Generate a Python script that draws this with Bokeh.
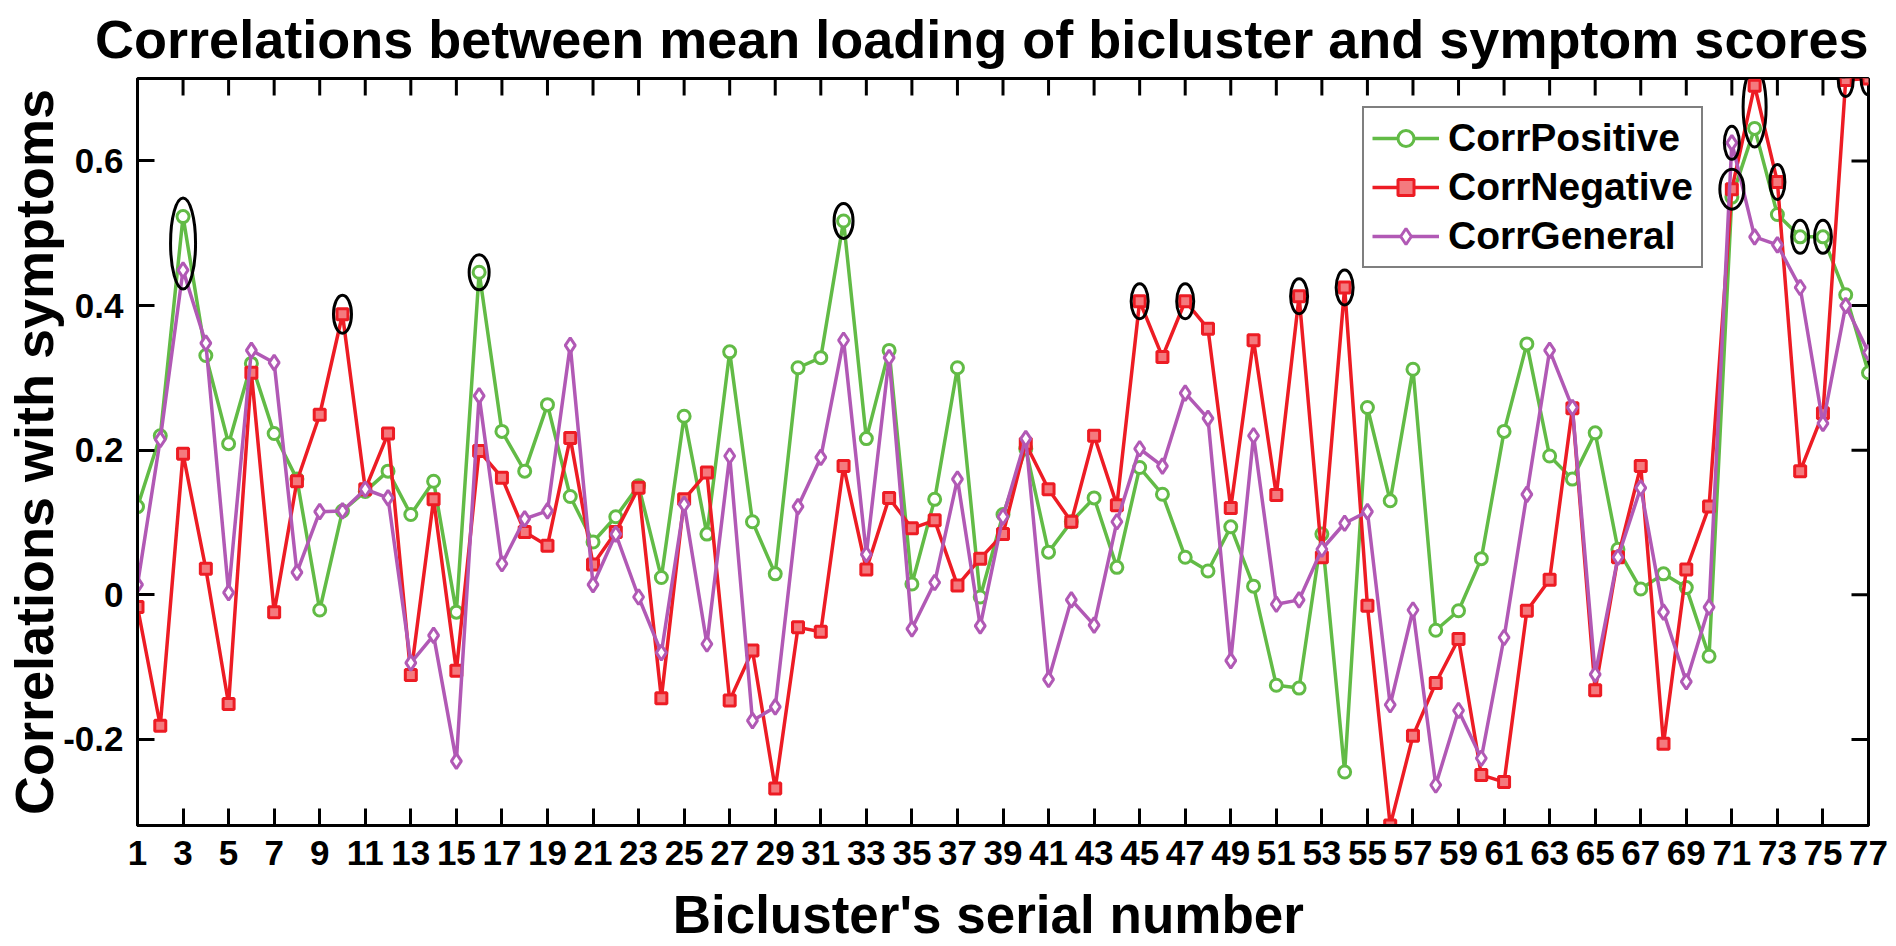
import math
from bokeh.plotting import figure
from bokeh.models import Range1d, FixedTicker, Legend, LegendItem, ColumnDataSource
from bokeh.embed import file_html
from bokeh.resources import INLINE

# ---------------- data ----------------
serial = list(range(1, 78))

corr_positive = [0.122, 0.22, 0.523, 0.331, 0.209, 0.32, 0.223, 0.16, -0.021, 0.116,
                 0.143, 0.171, 0.111, 0.157, -0.024, 0.446, 0.226, 0.171, 0.263, 0.136,
                 0.073, 0.108, 0.151, 0.024, 0.247, 0.084, 0.336, 0.101, 0.029, 0.314,
                 0.328, 0.517, 0.216, 0.338, 0.015, 0.132, 0.314, -0.003, 0.111, 0.202,
                 0.059, 0.101, 0.134, 0.038, 0.176, 0.139, 0.052, 0.033, 0.094, 0.012,
                 -0.125, -0.129, 0.084, -0.245, 0.259, 0.13, 0.312, -0.049, -0.022, 0.05,
                 0.226, 0.347, 0.192, 0.16, 0.224, 0.063, 0.008, 0.029, 0.01, -0.085,
                 0.55, 0.645, 0.526, 0.495, 0.495, 0.415, 0.307]

corr_negative = [-0.017, -0.181, 0.195, 0.036, -0.151, 0.307, -0.024, 0.157, 0.249, 0.388,
                 0.146, 0.223, -0.111, 0.132, -0.105, 0.199, 0.162, 0.087, 0.068, 0.217,
                 0.042, 0.087, 0.148, -0.143, 0.132, 0.169, -0.146, -0.077, -0.268, -0.045,
                 -0.051, 0.178, 0.035, 0.134, 0.092, 0.103, 0.013, 0.05, 0.084, 0.209,
                 0.146, 0.101, 0.22, 0.124, 0.406, 0.329, 0.406, 0.368, 0.12, 0.352,
                 0.138, 0.413, 0.052, 0.425, -0.015, -0.319, -0.195, -0.122, -0.061, -0.249,
                 -0.259, -0.022, 0.021, 0.258, -0.132, 0.052, 0.178, -0.206, 0.035, 0.122,
                 0.561, 0.704, 0.571, 0.171, 0.251, 0.712, 0.714]

corr_general = [0.014, 0.215, 0.449, 0.348, 0.003, 0.338, 0.321, 0.031, 0.115, 0.116,
                0.146, 0.134, -0.094, -0.056, -0.23, 0.275, 0.043, 0.105, 0.116, 0.345,
                0.014, 0.084, -0.003, -0.08, 0.125, -0.068, 0.192, -0.174, -0.155, 0.122,
                0.19, 0.352, 0.056, 0.328, -0.047, 0.017, 0.16, -0.043, 0.108, 0.216,
                -0.117, -0.007, -0.042, 0.101, 0.202, 0.178, 0.279, 0.244, -0.091, 0.22,
                -0.013, -0.007, 0.063, 0.099, 0.115, -0.152, -0.021, -0.263, -0.16, -0.226,
                -0.059, 0.139, 0.338, 0.259, -0.11, 0.052, 0.148, -0.024, -0.12, -0.017,
                0.625, 0.495, 0.484, 0.425, 0.237, 0.4, 0.335]

series_names = ["CorrPositive", "CorrNegative", "CorrGeneral"]

x_tick_values = list(range(1, 78, 2))
y_tick_values = [-0.2, 0, 0.2, 0.4, 0.6]
y_tick_labels = ["-0.2", "0", "0.2", "0.4", "0.6"]

title_text = "Correlations between mean loading of bicluster and symptom scores"
x_label_text = "Bicluster's  serial  number"
y_label_text = "Correlations with symptoms"

# circled (highlighted) points: serial number and the series that locate the ring
circled_serial = [3, 10, 16, 32, 45, 47, 52, 54, 71, 71, 72, 73, 74, 75, 76, 77]
circled_series = [["CorrPositive", "CorrGeneral"], ["CorrNegative"], ["CorrPositive"],
                  ["CorrPositive"], ["CorrNegative"], ["CorrNegative"], ["CorrNegative"],
                  ["CorrNegative"], ["CorrGeneral"], ["CorrNegative"],
                  ["CorrPositive", "CorrNegative"], ["CorrNegative"], ["CorrPositive"],
                  ["CorrPositive"], ["CorrNegative"], ["CorrNegative"]]

# ---------------- styles ----------------
FONT = "Liberation Sans"
colors = {"CorrPositive": "#62BB46", "CorrNegative": "#ED1C24", "CorrGeneral": "#B159B5"}
markers = {"CorrPositive": "circle", "CorrNegative": "square", "CorrGeneral": "diamond"}
marker_sizes = {"CorrPositive": 12, "CorrNegative": 11, "CorrGeneral": 15}
marker_fill = {"CorrPositive": "white", "CorrNegative": "#F47A7E", "CorrGeneral": "white"}
ring_w = [25, 18, 20, 19, 17, 17, 17, 17, 15, 24, 23, 15, 17, 17, 15, 15]
ring_h = [91, 38, 35, 35, 35, 35, 35, 35, 33, 40, 80, 35, 33, 33, 33, 33]

values = {"CorrPositive": corr_positive, "CorrNegative": corr_negative, "CorrGeneral": corr_general}

W, H = 1890, 946
LB, RB, TB, BB = 137, 22, 77, 120

all_vals = corr_positive + corr_negative + corr_general
ymin, ymax = min(all_vals), max(all_vals)
xmin, xmax = serial[0], serial[-1]

p = figure(width=W, height=H,
           x_range=Range1d(xmin, xmax), y_range=Range1d(ymin, ymax),
           output_backend="svg", toolbar_location=None,
           min_border_left=LB, min_border_right=RB, min_border_top=TB, min_border_bottom=BB)
p.grid.visible = False
p.background_fill_color = "white"
p.border_fill_color = "white"
p.outline_line_color = "black"
p.outline_line_width = 3

# title
p.title.text = title_text
p.title.align = "right"
p.title.vertical_align = "top"
p.title.offset = 0
p.title.standoff = 16
p.title.text_font = FONT
p.title.text_font_style = "bold"
p.title.text_font_size = "54px"
p.title.text_color = "black"

for ax in (p.xaxis[0], p.yaxis[0]):
    ax.axis_line_width = 3
    ax.axis_line_color = "black"
    ax.major_tick_in = 17
    ax.major_tick_out = 0
    ax.major_tick_line_width = 3
    ax.minor_tick_line_color = None
    ax.major_label_text_font = FONT
    ax.major_label_text_font_style = "bold"
    ax.major_label_text_color = "black"
    ax.major_label_text_font_size = "35px"
    ax.axis_label_text_font = FONT
    ax.axis_label_text_font_style = "bold"
    ax.axis_label_text_color = "black"

p.xaxis.ticker = FixedTicker(ticks=x_tick_values)
p.yaxis.ticker = FixedTicker(ticks=y_tick_values)
p.yaxis.major_label_overrides = {v: l for v, l in zip(y_tick_values, y_tick_labels)}

p.xaxis.major_label_standoff = 15
p.yaxis.major_label_standoff = 14
p.xaxis.axis_label = x_label_text
p.xaxis.axis_label_text_font_size = "53px"
p.xaxis.axis_label_standoff = 17
p.yaxis.axis_label = y_label_text
p.yaxis.axis_label_text_font_size = "54px"
p.yaxis.axis_label_standoff = -4

# mirrored inward ticks on the top and right edges (half of each dash is clipped by the frame)
p.scatter(x=x_tick_values, y=[ymax] * len(x_tick_values), marker="dash", angle=math.pi / 2,
          size=34, line_color="black", line_width=3)
p.scatter(x=[xmax] * len(y_tick_values), y=y_tick_values, marker="dash", angle=0,
          size=34, line_color="black", line_width=3)

items = []
for name in series_names:
    src = ColumnDataSource(dict(x=serial, y=values[name]))
    lr = p.line("x", "y", source=src, line_color=colors[name], line_width=3.5)
    sr = p.scatter("x", "y", source=src, marker=markers[name], size=marker_sizes[name],
                   line_color=colors[name], line_width=3, fill_color=marker_fill[name])
    items.append(LegendItem(label=name, renderers=[lr, sr]))

# rings around highlighted maxima
rx, ry = [], []
for s, names in zip(circled_serial, circled_series):
    i = serial.index(s)
    rx.append(s)
    ry.append(sum(values[n][i] for n in names) / len(names))
p.ellipse(x=rx, y=ry, width=ring_w, height=ring_h, width_units="screen", height_units="screen",
          fill_color=None, line_color="black", line_width=3)

legend = Legend(items=items, location=(1225, 557), border_line_color="black", border_line_width=2.5,
                background_fill_color="white", background_fill_alpha=1.0, padding=8, spacing=5,
                glyph_width=67, glyph_height=40, label_standoff=9, margin=0,
                label_text_font=FONT, label_text_font_style="bold", label_text_font_size="39px",
                label_text_color="black")
p.add_layout(legend)

open("out.html", "w").write(file_html(p, INLINE))
